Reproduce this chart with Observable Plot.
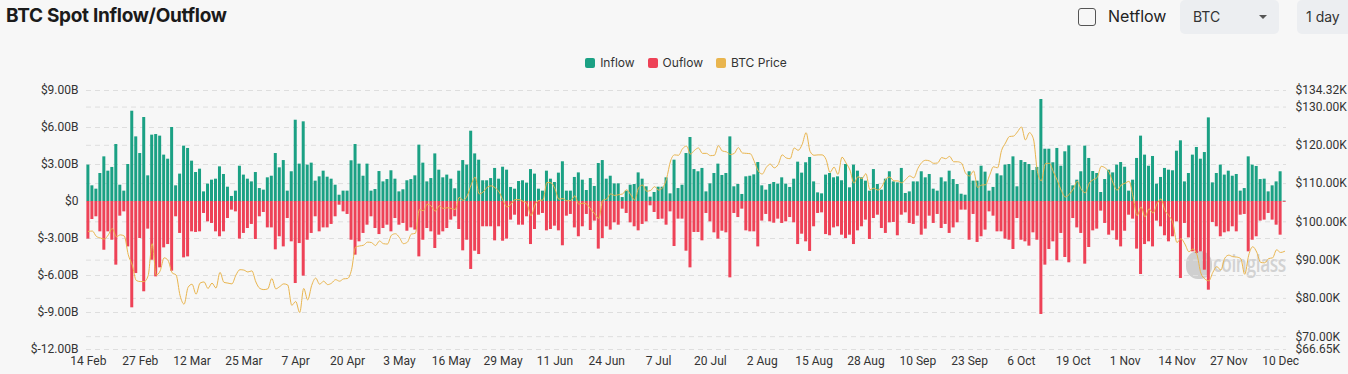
<!DOCTYPE html>
<html><head><meta charset="utf-8">
<script src="https://cdn.jsdelivr.net/npm/d3@7"></script>
<script src="https://cdn.jsdelivr.net/npm/@observablehq/plot@0.6"></script>
<style>
html,body{margin:0;padding:0;background:#f7f7f7;width:1348px;height:374px;overflow:hidden;font-family:Inter,"Noto Sans",sans-serif;}
.abs{position:absolute;}
#title{left:6px;top:4px;font-size:19px;font-weight:700;color:#1b1b1b;letter-spacing:-0.3px;}
#chk{left:1078px;top:8px;width:16px;height:16px;border:1.5px solid #555;border-radius:3px;}
#netflow{left:1108px;top:6px;font-size:16px;color:#222;}
.box{top:0;height:34px;background:#eceef1;border-radius:5px;font-size:14px;line-height:34px;color:#333;box-sizing:border-box;}
#btc{left:1180px;width:99px;padding-left:13px;}
#caret{left:1259px;top:15px;width:0;height:0;border-left:4px solid transparent;border-right:4px solid transparent;border-top:4px solid #555;}
#day{left:1297px;width:80px;padding-left:9px;}
#legend{left:0;top:55px;width:1372px;display:flex;justify-content:center;gap:13px;font-size:12px;color:#333;}
#legend span{display:flex;align-items:center;gap:5px;}
#legend i{display:inline-block;width:10px;height:10px;border-radius:2px;}
#chart{left:0;top:75px;}
#wm{left:1213px;top:246px;font-size:24px;font-weight:600;color:#c9c9c9;opacity:.8;font-family:"Open Sans",sans-serif;letter-spacing:-0.5px;transform:scaleX(0.72);transform-origin:left top;}
#wmlogo{left:1186px;top:251px;width:26px;height:28px;border-radius:45%;background:#bdbdbd;opacity:.7;}
</style></head>
<body>
<div id="title" class="abs">BTC Spot Inflow/Outflow</div>
<div id="chk" class="abs"></div>
<div id="netflow" class="abs">Netflow</div>
<div id="btc" class="abs box">BTC</div>
<div id="caret" class="abs"></div>
<div id="day" class="abs box">1 day</div>
<div id="legend" class="abs">
  <span><i style="background:#1ba184"></i>Inflow</span>
  <span><i style="background:#ee4257"></i>Ouflow</span>
  <span><i style="background:#e9b54e"></i>BTC Price</span>
</div>
<div id="wmlogo" class="abs"></div>
<div id="wm" class="abs">coinglass</div>
<div id="chart" class="abs"></div>
<script>
// Daily values, 14 Feb 2025 → 11 Dec 2025 (billions USD)
const inflow = [
2.95,1.27,1.00,2.27,3.62,2.46,2.76,4.62,1.32,0.84,3.00,7.32,5.24,3.89,6.81,2.08,5.38,5.43,5.30,3.76,
3.43,6.00,1.27,2.22,4.49,4.30,3.27,2.35,2.62,0.78,1.41,1.73,1.81,2.81,2.19,1.16,0.41,0.84,2.86,2.14,
1.81,1.59,2.35,1.05,0.92,1.92,2.05,3.89,2.73,3.32,0.84,2.41,6.59,3.03,6.46,2.95,3.11,1.65,2.00,2.46,
1.97,1.81,1.32,0.51,0.84,0.84,3.30,4.62,3.03,2.05,3.03,0.84,0.97,2.43,1.59,1.78,2.49,1.81,0.78,0.95,
1.68,1.78,2.08,4.57,3.11,1.59,1.86,3.86,2.54,1.92,2.14,1.81,1.03,2.46,3.32,2.95,5.70,3.86,3.35,1.68,
1.68,1.86,2.68,1.81,2.78,2.54,1.14,1.00,1.62,1.68,1.49,2.59,2.22,1.00,0.84,2.46,1.81,1.54,2.30,3.22,
0.84,0.84,1.95,2.32,1.73,0.89,1.86,1.22,3.08,3.32,1.81,2.05,1.43,1.43,0.32,0.84,1.32,1.38,2.32,1.81,
1.19,0.35,0.73,1.16,1.16,1.92,0.62,3.35,1.05,1.32,3.89,5.19,2.59,2.41,2.68,0.78,1.43,2.27,3.03,2.11,
2.27,5.24,1.19,1.38,0.57,2.00,2.05,2.16,3.16,1.27,0.92,1.38,1.54,1.41,1.92,1.41,1.14,1.81,3.19,2.30,
3.14,3.57,1.59,0.70,0.62,2.14,2.27,1.92,2.00,1.68,3.00,1.11,2.95,2.46,1.92,1.65,0.84,2.59,1.38,0.92,
1.81,2.41,1.59,1.51,2.68,0.65,0.78,1.59,1.59,2.41,1.92,2.19,1.00,0.84,1.92,1.59,2.46,1.78,1.38,0.59,
0.51,2.41,1.65,1.65,2.86,2.38,0.84,1.14,2.24,2.08,2.95,3.00,3.62,1.19,3.32,3.16,3.00,2.51,2.76,8.27,
4.24,4.24,3.14,4.30,2.86,4.03,4.51,1.27,1.73,2.41,4.49,3.49,2.43,2.27,0.73,1.78,2.54,2.32,2.95,3.16,
2.78,0.84,1.73,3.49,5.30,3.76,2.86,3.65,1.41,1.95,2.68,2.54,2.49,4.08,4.92,1.59,2.27,3.76,4.38,3.43,
3.97,6.78,1.51,2.27,2.95,2.14,2.46,2.05,2.19,0.84,1.05,3.62,2.95,2.84,1.78,1.81,0.78,1.27,1.59,2.41,
0.03];
const outflow = [
-3.05,-1.46,-1.24,-2.46,-3.95,-2.46,-3.14,-5.16,-1.19,-0.84,-3.68,-8.62,-5.84,-3.00,-7.32,-2.24,-4.76,-6.11,-5.38,-3.76,
-3.49,-5.65,-1.24,-2.59,-4.57,-4.49,-2.46,-2.51,-2.46,-0.97,-1.65,-1.78,-2.46,-2.86,-2.46,-1.38,-0.70,-0.84,-3.05,-2.59,
-2.19,-1.86,-3.08,-1.24,-0.89,-2.14,-2.14,-3.92,-2.86,-3.68,-1.38,-3.27,-6.65,-3.41,-6.05,-3.14,-2.59,-1.24,-2.46,-2.14,
-2.14,-1.86,-1.24,-0.30,-0.84,-1.05,-3.14,-4.35,-3.27,-2.59,-1.92,-1.24,-2.19,-2.68,-2.19,-1.92,-2.46,-1.38,-1.92,-1.78,
-2.41,-2.14,-2.32,-4.49,-3.14,-2.19,-2.46,-3.81,-2.73,-2.46,-2.19,-1.51,-1.24,-2.27,-4.00,-3.14,-5.51,-4.03,-4.30,-2.05,
-2.05,-2.05,-3.19,-2.05,-3.22,-3.05,-1.51,-1.11,-1.92,-1.92,-1.24,-3.49,-2.27,-1.11,-0.97,-2.38,-2.27,-2.00,-2.38,-3.59,
-1.19,-1.05,-2.14,-2.86,-2.05,-1.05,-2.35,-1.59,-3.86,-3.00,-2.05,-2.32,-1.73,-1.92,-0.62,-0.97,-1.73,-2.05,-2.38,-1.86,
-1.65,-0.35,-0.89,-1.46,-1.43,-1.92,-0.84,-3.65,-1.43,-1.43,-4.03,-5.38,-2.51,-2.51,-3.19,-0.97,-1.65,-2.54,-3.05,-2.41,
-2.54,-6.19,-0.97,-1.30,-0.62,-2.38,-2.46,-2.46,-3.68,-1.59,-1.05,-1.65,-1.76,-1.43,-1.78,-1.65,-1.30,-1.73,-3.49,-2.65,
-3.27,-4.05,-2.05,-0.97,-0.92,-2.68,-2.78,-2.14,-2.05,-2.73,-3.00,-2.73,-3.49,-2.38,-2.05,-1.51,-3.08,-1.38,-1.11,-2.19,
-2.59,-1.73,-1.70,-2.78,-1.11,-0.92,-1.78,-1.86,-1.19,-2.73,-2.24,-1.19,-1.78,-1.05,-2.19,-1.86,-2.59,-2.14,-1.73,-0.70,
-0.70,-3.14,-1.05,-3.32,-2.86,-2.32,-0.84,-1.19,-2.46,-2.46,-3.05,-3.14,-3.89,-1.38,-3.14,-3.27,-3.62,-2.54,-3.14,-9.16,
-5.16,-3.89,-3.27,-4.81,-2.59,-4.54,-4.97,-1.38,-2.14,-2.59,-5.08,-3.73,-2.38,-2.24,-0.78,-1.78,-2.73,-2.38,-3.14,-3.68,
-2.41,-1.11,-1.43,-3.86,-5.92,-3.49,-3.27,-3.68,-1.59,-2.05,-2.78,-3.27,-2.86,-1.65,-6.24,-1.78,-2.95,-4.08,-4.22,-4.08,
-5.57,-7.19,-1.70,-2.05,-2.86,-2.54,-2.46,-2.05,-2.46,-1.11,-1.05,-4.08,-3.14,-2.86,-1.59,-1.51,-0.97,-1.51,-1.92,-2.73,
-0.06];
// BTC price, thousands USD
const price = [
97.5,97.6,96.2,95.8,95.5,96.6,98.3,96.1,96.6,96.3,91.4,88.7,84.7,84.4,84.4,
86.0,94.3,86.1,87.2,90.6,89.9,86.7,86.1,80.7,78.5,82.9,83.7,81.1,84.0,84.3,82.6,84.0,82.7,86.8,84.2,84.0,83.8,86.1,87.5,87.4,86.9,87.2,84.3,82.6,82.3,82.5,
85.2,82.5,83.1,83.8,83.5,78.2,79.2,76.3,82.6,79.6,83.4,85.3,83.7,84.5,83.6,84.0,84.9,84.5,85.1,85.2,87.5,93.4,93.7,93.9,94.7,94.6,93.8,95.0,94.3,94.2,
96.5,96.9,95.9,94.3,94.7,96.8,97.0,103.2,102.9,104.6,104.1,102.8,104.2,103.5,103.7,103.5,103.2,106.4,105.6,106.8,109.7,111.7,107.3,107.8,109.0,109.4,108.9,107.8,105.6,103.9,104.6,
105.8,105.8,105.4,104.7,101.6,104.4,105.6,105.7,110.3,110.2,108.7,105.9,106.1,105.5,105.6,106.8,104.6,104.9,104.6,103.3,102.1,100.9,105.6,106.0,107.3,106.9,107.1,107.3,108.4,107.1,
105.7,108.9,109.6,108.0,108.2,109.2,108.3,108.9,111.3,115.9,117.5,117.4,119.1,119.8,117.7,118.7,119.3,117.9,117.9,117.3,117.4,119.9,118.5,118.3,117.6,117.9,119.4,118.0,117.9,117.8,115.8,
113.3,112.5,114.2,115.1,114.1,115.0,117.5,116.7,116.5,119.3,118.7,120.2,123.3,118.4,117.4,117.5,117.5,116.3,112.9,114.3,112.4,116.9,115.4,113.5,110.1,111.8,111.3,112.6,108.4,108.8,108.3,
109.2,111.2,111.7,110.7,110.7,110.2,111.1,112.0,111.5,113.9,115.5,116.1,115.9,115.3,115.4,116.8,116.5,117.1,115.7,115.7,115.3,112.7,112.0,113.3,109.0,109.6,109.7,112.1,114.4,114.1,
118.6,120.6,122.3,122.4,123.5,124.8,121.4,123.3,121.7,113.2,110.7,115.2,115.3,113.1,110.8,108.2,106.5,107.2,108.6,110.6,108.5,107.6,110.1,111.0,111.6,114.5,114.1,112.9,110.1,108.3,109.6,
110.1,110.6,106.5,101.6,103.9,101.3,103.4,102.3,104.7,106.0,103.0,101.6,99.7,94.6,95.6,94.2,92.2,92.9,91.5,86.6,85.1,84.6,86.8,88.3,87.4,90.5,91.3,90.9,90.8,90.4,
86.3,91.3,93.5,92.1,89.4,89.3,90.4,90.6,92.7,92.0,92.3];
const leftTicks = [-12,-9,-6,-3,0,3,6,9];
const rightTicks = [66.65,70,80,90,100,110,120,130,134.32];
const xTickIdx = [0,13,26,39,52,65,78,91,104,117,130,143,156,169,182,195,208,221,234,247,260,273,286,299];
const xLabels = ["14 Feb","27 Feb","12 Mar","25 Mar","7 Apr","20 Apr","3 May","16 May","29 May","11 Jun","24 Jun","7 Jul","20 Jul","2 Aug","15 Aug","28 Aug","10 Sep","23 Sep","6 Oct","19 Oct","1 Nov","14 Nov","27 Nov","10 Dec"];

const yMin = -12, yMax = 9, pMin = 66.65, pMax = 134.32;
const toY = p => yMin + (p - pMin) / (pMax - pMin) * (yMax - yMin);
const fromY = y => pMin + (y - yMin) / (yMax - yMin) * (pMax - pMin);
const rows = inflow.map((v, i) => ({i, inflow: v, outflow: outflow[i], price: price[i]}));
const xLab = new Map(xTickIdx.map((d, k) => [d, xLabels[k]]));

const chart = Plot.plot({
  width: 1348, height: 299,
  marginTop: 15, marginBottom: 25, marginLeft: 86, marginRight: 62,
  style: {background: "transparent", fontFamily: "Roboto, sans-serif", fontSize: "12px", color: "#333"},
  x: {type: "band", domain: d3.range(rows.length), paddingInner: 0.25, paddingOuter: 0.1, round: false},
  y: {domain: [yMin, yMax]},
  marks: [
    Plot.gridY(leftTicks, {stroke: "#dedede", strokeOpacity: 1, strokeDasharray: "5,4"}),
    Plot.gridY(rightTicks.map(toY), {stroke: "#dedede", strokeOpacity: 1, strokeDasharray: "5,4"}),
    Plot.barY(rows, {x: "i", y: "inflow", fill: "#1ba184"}),
    Plot.barY(rows, {x: "i", y: "outflow", fill: "#ee4257"}),
    Plot.line(rows, {x: "i", y: d => toY(d.price), stroke: "#e9b54e", strokeWidth: 1, curve: "monotone-x"}),
    Plot.axisY(leftTicks, {anchor: "left", tickSize: 0, tickPadding: 8, label: null,
      tickFormat: d => d === 0 ? "$0" : "$" + d.toFixed(2) + "B"}),
    Plot.axisY(rightTicks.map(toY), {anchor: "right", tickSize: 0, tickPadding: 9, label: null,
      tickFormat: d => "$" + fromY(d).toFixed(2) + "K"}),
    Plot.axisX(xTickIdx, {tickSize: 0, tickPadding: 7, label: null, tickFormat: d => xLab.get(d)})
  ]
});
document.getElementById("chart").appendChild(chart);
</script>
</body></html>
